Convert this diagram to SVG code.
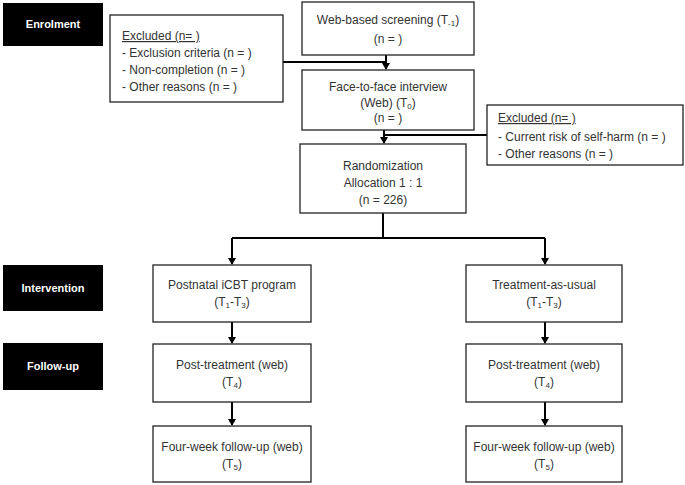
<svg xmlns="http://www.w3.org/2000/svg" width="685" height="485" viewBox="0 0 685 485">
<style>
text{font-family:"Liberation Sans",Arial,sans-serif;font-size:12px;fill:#333}
.box{fill:#fff;stroke:#222;stroke-width:1.3}
.lab{fill:#000}
.lt{fill:#fff;font-weight:bold;font-size:11px}
.c{text-anchor:middle}
.ln{stroke:#000;stroke-width:2;fill:none}
.s{font-size:8px}
</style>
<defs><marker id="a" markerWidth="8" markerHeight="8" refX="6" refY="4" orient="auto" markerUnits="userSpaceOnUse"><path d="M0,0L7,4L0,8z" fill="#000"/></marker></defs>
<rect width="685" height="485" fill="#fff"/>
<g id="connectors">
<path class="ln" d="M386,55V69" marker-end="url(#a)"/>
<path class="ln" d="M283,62H386"/>
<path class="ln" d="M384,130V143" marker-end="url(#a)"/>
<path class="ln" d="M384,135H487"/>
<path class="ln" d="M383,213V238"/>
<path class="ln" d="M232,238H545"/>
<path class="ln" d="M232,238V264" marker-end="url(#a)"/>
<path class="ln" d="M545,238V264" marker-end="url(#a)"/>
<path class="ln" d="M232,322V343" marker-end="url(#a)"/>
<path class="ln" d="M545,322V343" marker-end="url(#a)"/>
<path class="ln" d="M232,402V425" marker-end="url(#a)"/>
<path class="ln" d="M545,402V425" marker-end="url(#a)"/>
</g>
<g id="enrolment"><rect class="lab" x="3" y="3" width="100" height="43"/><text class="lt c" x="53" y="28">Enrolment</text></g>
<g id="intervention"><rect class="lab" x="3" y="265" width="100" height="46"/><text class="lt c" x="53" y="292">Intervention</text></g>
<g id="followup"><rect class="lab" x="3" y="343" width="100" height="47"/><text class="lt c" x="53" y="370">Follow-up</text></g>
<g id="excluded1"><rect class="box" x="110" y="15" width="173" height="87"/>
<text x="122" y="40" text-decoration="underline">Excluded (n= )</text>
<text x="122" y="57">- Exclusion criteria (n = )</text>
<text x="122" y="74">- Non-completion (n = )</text>
<text x="122" y="91">- Other reasons (n = )</text></g>
<g id="screening"><rect class="box" x="302" y="2" width="172" height="53"/>
<text class="c" x="388" y="24">Web-based screening (T<tspan class="s" dy="2">-1</tspan><tspan dy="-2">)</tspan></text>
<text class="c" x="388" y="43">(n = )</text></g>
<g id="interview"><rect class="box" x="302" y="70" width="172" height="60"/>
<text class="c" x="388" y="91">Face-to-face interview</text>
<text class="c" x="388" y="107">(Web) (T<tspan class="s" dy="2">0</tspan><tspan dy="-2">)</tspan></text>
<text class="c" x="388" y="122">(n = )</text></g>
<g id="excluded2"><rect class="box" x="487" y="105" width="196" height="60"/>
<text x="498" y="122" text-decoration="underline">Excluded (n= )</text>
<text x="498" y="141">- Current risk of self-harm (n = )</text>
<text x="498" y="158">- Other reasons (n = )</text></g>
<g id="randomization"><rect class="box" x="300" y="144" width="166" height="69"/>
<text class="c" x="383" y="170">Randomization</text>
<text class="c" x="383" y="187">Allocation 1 : 1</text>
<text class="c" x="383" y="204">(n = 226)</text></g>
<g id="icbt"><rect class="box" x="153" y="265" width="158" height="57"/>
<text class="c" x="232" y="289">Postnatal iCBT program</text>
<text class="c" x="232" y="306">(T<tspan class="s" dy="2">1</tspan><tspan dy="-2">-T</tspan><tspan class="s" dy="2">3</tspan><tspan dy="-2">)</tspan></text></g>
<g id="tau"><rect class="box" x="466" y="265" width="156" height="57"/>
<text class="c" x="544" y="289">Treatment-as-usual</text>
<text class="c" x="544" y="306">(T<tspan class="s" dy="2">1</tspan><tspan dy="-2">-T</tspan><tspan class="s" dy="2">3</tspan><tspan dy="-2">)</tspan></text></g>
<g id="post1"><rect class="box" x="153" y="344" width="158" height="58"/>
<text class="c" x="232" y="369">Post-treatment (web)</text>
<text class="c" x="232" y="386">(T<tspan class="s" dy="2">4</tspan><tspan dy="-2">)</tspan></text></g>
<g id="post2"><rect class="box" x="466" y="344" width="156" height="58"/>
<text class="c" x="544" y="369">Post-treatment (web)</text>
<text class="c" x="544" y="386">(T<tspan class="s" dy="2">4</tspan><tspan dy="-2">)</tspan></text></g>
<g id="fu1"><rect class="box" x="153" y="426" width="158" height="56"/>
<text class="c" x="232" y="451">Four-week follow-up (web)</text>
<text class="c" x="232" y="468">(T<tspan class="s" dy="2">5</tspan><tspan dy="-2">)</tspan></text></g>
<g id="fu2"><rect class="box" x="466" y="426" width="156" height="56"/>
<text class="c" x="544" y="451">Four-week follow-up (web)</text>
<text class="c" x="544" y="468">(T<tspan class="s" dy="2">5</tspan><tspan dy="-2">)</tspan></text></g>
</svg>
